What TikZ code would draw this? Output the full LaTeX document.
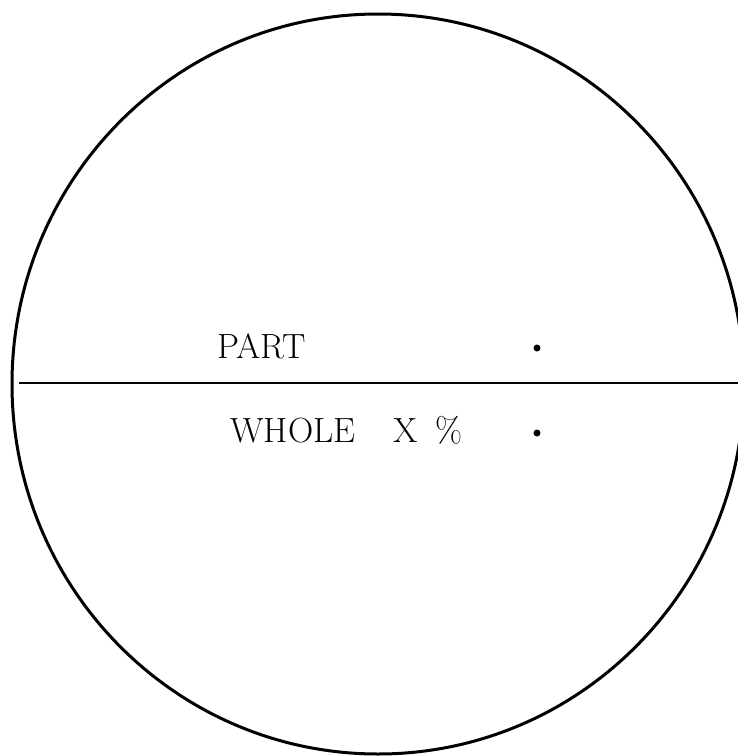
\documentclass[tikz,border=0pt]{standalone}
\usepackage{tikz}
\usetikzlibrary{calc}

\begin{document}
\begin{tikzpicture}[x=0.5pt,y=-0.5pt,
    lbl/.style={font=\fontsize{17.5}{20}\selectfont,inner sep=0pt,anchor=west},
    dot/.style={circle,fill=black,inner sep=0pt,minimum size=3.5pt}]
    \useasboundingbox (0,0) rectangle (738,756);
    \draw[line width=1.5pt] (378,384) ellipse [x radius=366,y radius=370];
    \coordinate (lft) at (19,383);
    \coordinate (rgt) at (745,383);
    \draw[line width=1pt] (lft) -- (rgt);
    \node[lbl] (part) at (217,346) {PART};
    \node[lbl] (whole) at (230,430) {WHOLE\hspace{1.1em}X\hspace{0.5em}\%};
    \node[dot] (pdot) at (537,348) {};
    \node[dot] (wdot) at (537,433) {};
  \end{tikzpicture}
\end{document}
